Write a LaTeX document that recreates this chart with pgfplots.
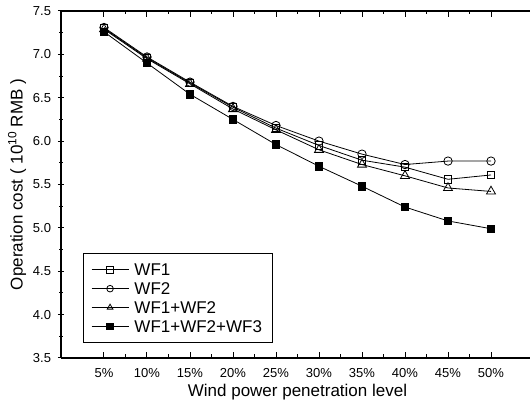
\documentclass[border=0pt]{standalone}
\usepackage{pgfplots}
\pgfplotsset{compat=1.18}
\usepackage{fontspec}
\setmainfont{Liberation Sans}
\newcommand{\lab}{\fontsize{17}{20}\selectfont}
\newcommand{\ent}[1]{\lab\rule[-4pt]{0pt}{17.3pt}#1}

\begin{document}
\begin{tikzpicture}
\begin{axis}[
  scale only axis,
  width=473pt, height=347pt,
  xmin=0, xmax=11, ymin=3.5, ymax=7.5,
  xtick={1,...,10},
  xticklabels={5\%,10\%,15\%,20\%,25\%,30\%,35\%,40\%,45\%,50\%},
  ytick={3.5,4.0,...,7.5},
  yticklabel style={xshift=-3.4pt, /pgf/number format/.cd, fixed, fixed zerofill, precision=1},
  /pgf/number format/assume math mode=true,
  minor tick num=1,
  tick align=inside,
  major tick length=6pt, minor tick length=3.5pt,
  axis x line=box, axis y line=left,
  axis line style={-, line width=1.2pt},
  tick style={line width=1pt, black},
  tick label style={font=\fontsize{13}{15}\selectfont},
  xticklabel style={yshift=-7pt},
  xlabel={\lab Wind power penetration level},
  ylabel={\lab Operation cost ( 10$^{\mathrm{10}}$ RMB )},
  legend style={at={(0.046,0.043)}, anchor=south west, draw=black, line width=0.8pt,
    row sep=0pt, column sep=3.5pt, inner xsep=8pt, inner ysep=7pt,
    legend cell align=left},
  legend image code/.code={\draw[mark repeat=2,mark phase=2,mark size=3.3pt]
    plot coordinates {(0pt,0pt) (18.5pt,0pt) (37pt,0pt)};},
  every axis plot/.append style={black, line width=0.8pt},
]
\addplot[mark=square, mark size=3.7pt, mark options={fill=white}] coordinates {
(1,7.30) (2,6.96) (3,6.67) (4,6.39) (5,6.15) (6,5.95) (7,5.78) (8,5.70) (9,5.56) (10,5.61)};
\addlegendentry{\ent{WF1}}
\addplot[mark=o, mark size=4.2pt, mark options={fill=white}] coordinates {
(1,7.31) (2,6.97) (3,6.68) (4,6.40) (5,6.18) (6,6.00) (7,5.85) (8,5.73) (9,5.77) (10,5.77)};
\addlegendentry{\ent{WF2}}
\addplot[mark=triangle, mark size=5.2pt, mark options={fill=white}] coordinates {
(1,7.29) (2,6.95) (3,6.66) (4,6.37) (5,6.13) (6,5.90) (7,5.73) (8,5.60) (9,5.46) (10,5.42)};
\addlegendentry{\ent{WF1+WF2}}
\addplot[mark=square*, mark size=3.7pt] coordinates {
(1,7.26) (2,6.90) (3,6.54) (4,6.25) (5,5.96) (6,5.71) (7,5.48) (8,5.24) (9,5.08) (10,4.99)};
\addlegendentry{\ent{WF1+WF2+WF3}}
\coordinate (sw) at (rel axis cs:0,0);
\coordinate (ne) at (rel axis cs:1,1);
\end{axis}
\pgfresetboundingbox
\path ([shift={(-61pt,-51pt)}]sw) rectangle ([shift={(-4pt,11pt)}]ne);
\end{tikzpicture}
\end{document}
